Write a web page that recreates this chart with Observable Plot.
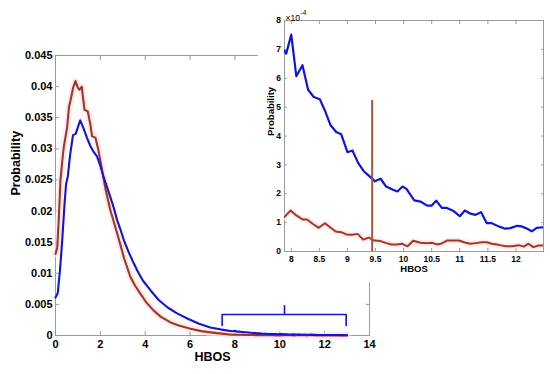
<!DOCTYPE html>
<html><head><meta charset="utf-8">
<script src="https://cdn.jsdelivr.net/npm/d3@7"></script>
<script src="https://cdn.jsdelivr.net/npm/@observablehq/plot@0.6"></script>
<style>
body{margin:0;background:#fff;}
#wrap{position:relative;width:550px;height:374px;}
#inset{position:absolute;left:258px;top:0;background:#fff;}
svg{display:block;}
</style></head><body><div id="wrap"><div id="main"></div><div id="inset"></div></div>
<script>
// ---- main chart series (Probability vs HBOS) ----
const blueMainX = [0,0.1,0.2,0.3,0.4,0.47,0.55,0.65,0.78,0.9,1.0,1.1,1.25,1.4,1.55,1.7,1.85,2.0,2.15,2.3,2.45,2.6,2.75,2.9,3.05,3.25,3.45,3.65,3.9,4.25,4.6,5.0,5.4,5.9,6.4,6.9,7.4];
const blueMainY = [0.0061,0.0068,0.0105,0.0153,0.021,0.0243,0.0256,0.029,0.0322,0.0324,0.0335,0.0346,0.0333,0.0318,0.0305,0.0295,0.0288,0.0273,0.0254,0.0238,0.0222,0.0205,0.0185,0.017,0.0153,0.0135,0.0119,0.0104,0.0088,0.0072,0.0057,0.0045,0.0036,0.0027,0.0019,0.0013,0.00095];
const redMainX = [0,0.08,0.15,0.22,0.3,0.37,0.52,0.6,0.67,0.79,0.89,1.0,1.07,1.17,1.29,1.44,1.55,1.63,1.78,1.9,2.0,2.23,2.45,2.67,2.9,3.05,3.34,3.55,3.79,4.05,4.38,4.7,5.13,5.5,6.02,6.5,6.91,7.4];
const redMainY = [0.0131,0.0142,0.019,0.0249,0.028,0.0303,0.0335,0.0367,0.0378,0.0399,0.0409,0.0398,0.0395,0.04,0.0363,0.036,0.034,0.032,0.0318,0.03,0.0281,0.0235,0.0201,0.0174,0.0145,0.0125,0.0094,0.008,0.0067,0.0053,0.004,0.003,0.0021,0.0016,0.0011,0.0007,0.0005,0.0003];
// ---- tail (inset), values in units of 1e-4 ----
const blueTailX = [7.88,7.91,8.0,8.09,8.2,8.3,8.4,8.51,8.61,8.7,8.8,8.89,9.0,9.09,9.19,9.29,9.39,9.49,9.59,9.69,9.8,9.89,9.98,10.05,10.19,10.3,10.42,10.5,10.58,10.68,10.77,10.89,11.0,11.09,11.19,11.28,11.38,11.48,11.57,11.69,11.81,11.9,12.02,12.1,12.2,12.28,12.37,12.48,12.75,13.0];
const blueTailY = [6.95,6.85,7.51,6.07,6.45,5.6,5.35,5.27,4.83,4.37,4.14,4.06,3.44,3.5,3.07,2.78,2.61,2.43,2.52,2.25,2.15,2.08,2.25,2.17,1.77,1.73,1.59,1.59,1.76,1.51,1.51,1.4,1.22,1.42,1.31,1.27,1.36,0.98,0.98,0.87,0.79,0.81,0.89,0.87,0.79,0.7,0.82,0.84,0.6,0.5];
const redTailX = [7.88,7.99,8.09,8.2,8.28,8.38,8.49,8.6,8.69,8.79,8.89,8.98,9.08,9.18,9.28,9.38,9.48,9.59,9.68,9.78,9.88,9.97,10.07,10.17,10.3,10.42,10.51,10.6,10.68,10.77,10.89,10.98,11.09,11.19,11.28,11.4,11.48,11.57,11.69,11.81,11.93,12.05,12.14,12.22,12.31,12.4,12.48,12.75,13.0];
const redTailY = [1.2,1.42,1.25,1.11,1.11,0.96,0.82,0.98,0.84,0.69,0.67,0.59,0.58,0.61,0.41,0.48,0.38,0.36,0.3,0.24,0.24,0.27,0.18,0.37,0.3,0.29,0.3,0.24,0.28,0.38,0.38,0.38,0.31,0.27,0.29,0.32,0.32,0.27,0.23,0.18,0.18,0.22,0.17,0.27,0.15,0.21,0.21,0.18,0.15];
// ---- ticks ----
const mainXTicks = [0,2,4,6,8,10,12,14];
const mainYTicks = [0,0.005,0.01,0.015,0.02,0.025,0.03,0.035,0.04,0.045];
const insetXTicks = [8,8.5,9,9.5,10,10.5,11,11.5,12];
const insetYTicks = [0,1,2,3,4,5,6,7,8];
// ---- annotations ----
const bracketX = [7.43,7.43,12.96,12.96];
const bracketY = [0.0016,0.00338,0.00338,0.0016];
const bracketTipX = 10.21, bracketTipY = [0.00338,0.0048];
const thresholdX = 9.44, thresholdTop = 5.23;

const BLUE = "#1414d6", RED = "#a2391c", HALO = "#fde3f0", GRAY = "#9a9a9a";
const FONT = "'Liberation Sans', Arial, Helvetica, sans-serif";

const toRows = (xs, ys, k=1) => xs.map((x,i)=>({x, y: ys[i]*k}));
const blueAll = toRows(blueMainX, blueMainY).concat(toRows(blueTailX, blueTailY, 1e-4));
const redAll = toRows(redMainX, redMainY).concat(toRows(redTailX, redTailY, 1e-4));
const fmt = d => String(+d.toFixed(4));

const main = Plot.plot({
  width: 550, height: 374,
  marginLeft: 55, marginRight: 181, marginTop: 55, marginBottom: 39,
  x: {domain: [0, 14]},
  y: {domain: [0, 0.045]},
  style: {fontFamily: FONT, fontWeight: "bold", fontSize: "11px", color: "#000", background: "#fff"},
  marks: [
    Plot.frame({stroke: GRAY}),
    Plot.axisX({ticks: mainXTicks, tickSize: -4, tickPadding: 9, stroke: GRAY, tickFormat: fmt, label: null}),
    Plot.axisX({anchor: "top", ticks: mainXTicks, tickSize: -4, stroke: GRAY, tickFormat: () => "", label: null}),
    Plot.axisY({ticks: mainYTicks, tickSize: -4, tickPadding: 7, stroke: GRAY, tickFormat: fmt, label: null}),
    Plot.axisY({anchor: "right", ticks: mainYTicks, tickSize: -4, stroke: GRAY, tickFormat: () => "", label: null}),
    Plot.line(redAll, {x: "x", y: "y", stroke: HALO, strokeWidth: 7, strokeOpacity: 0.7}),
    Plot.line(redAll, {x: "x", y: "y", stroke: RED, strokeWidth: 2.1}),
    Plot.line(blueAll, {x: "x", y: "y", stroke: BLUE, strokeWidth: 2.1}),
    Plot.line(bracketX.map((x,i)=>({x, y: bracketY[i]})), {x: "x", y: "y", stroke: BLUE, strokeWidth: 1.6}),
    Plot.ruleX([bracketTipX], {y1: bracketTipY[0], y2: bracketTipY[1], stroke: BLUE, strokeWidth: 1.6}),
    Plot.text(["HBOS"], {frameAnchor: "bottom", dy: 25, fontSize: 12.5, fontWeight: "bold", fill: "#000"}),
    Plot.text(["Probability"], {frameAnchor: "left", dx: -40, rotate: -90, fontSize: 12.5, fontWeight: "bold", fill: "#000"})
  ]
});
document.getElementById("main").appendChild(main);

const insetBlue = toRows(blueTailX, blueTailY);
const insetRed = toRows(redTailX, redTailY);
const inset = Plot.plot({
  width: 292, height: 282,
  marginLeft: 26, marginRight: 7, marginTop: 20, marginBottom: 31,
  x: {domain: [7.88, 12.49]},
  y: {domain: [0, 8]},
  style: {fontFamily: FONT, fontWeight: "bold", fontSize: "8.5px", color: "#000", background: "#fff"},
  marks: [
    Plot.frame({stroke: GRAY}),
    Plot.axisX({ticks: insetXTicks, tickSize: -3, tickPadding: 7, stroke: GRAY, tickFormat: fmt, label: null}),
    Plot.axisX({anchor: "top", ticks: insetXTicks, tickSize: -3, stroke: GRAY, tickFormat: () => "", label: null}),
    Plot.axisY({ticks: insetYTicks, tickSize: -3, tickPadding: 6.5, stroke: GRAY, tickFormat: fmt, label: null}),
    Plot.axisY({anchor: "right", ticks: insetYTicks, tickSize: -3, stroke: GRAY, tickFormat: () => "", label: null}),
    Plot.line(insetRed, {x: "x", y: "y", stroke: HALO, strokeWidth: 6, strokeOpacity: 0.7, clip: true}),
    Plot.line(insetRed, {x: "x", y: "y", stroke: RED, strokeWidth: 2, clip: true}),
    Plot.line(insetBlue, {x: "x", y: "y", stroke: BLUE, strokeWidth: 2.2, clip: true}),
    Plot.ruleX([thresholdX], {y1: 0, y2: thresholdTop, stroke: "#a65a3c", strokeWidth: 2}),
    Plot.text(["\u00d710"], {frameAnchor: "top-left", textAnchor: "start", dx: 1, dy: -6, fontSize: 8.5, fontWeight: "normal", fill: "#000"}),
    Plot.text(["-4"], {frameAnchor: "top-left", textAnchor: "start", dx: 16, dy: -10, fontSize: 6.5, fontWeight: "normal", fill: "#000"}),
    Plot.text(["HBOS"], {frameAnchor: "bottom", dy: 20, fontSize: 9.5, fontWeight: "bold", fill: "#000"}),
    Plot.text(["Probability"], {frameAnchor: "left", dx: -14, rotate: -90, fontSize: 9.5, fontWeight: "bold", fill: "#000"})
  ]
});
document.getElementById("inset").appendChild(inset);
</script>
</body></html>
